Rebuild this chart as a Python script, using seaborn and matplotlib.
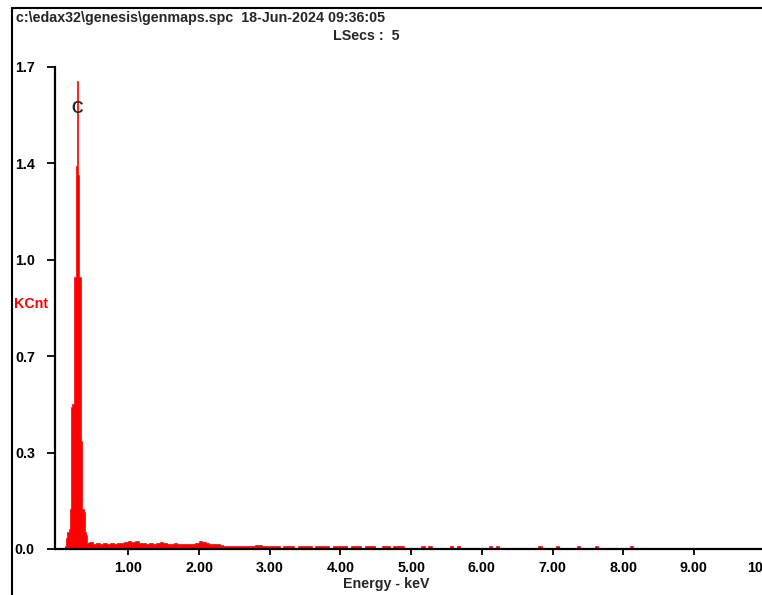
import numpy as np
import pandas as pd
import matplotlib
matplotlib.use("Agg")
import matplotlib.pyplot as plt
import seaborn as sns
from matplotlib.lines import Line2D

# C K peak, 10 eV channels (keV / KCnt)
peak_energy = [0.11, 0.12, 0.13, 0.14, 0.15, 0.16, 0.17, 0.18, 0.19, 0.20,
               0.21, 0.22, 0.23, 0.24, 0.25, 0.26, 0.27, 0.28, 0.29, 0.30,
               0.31, 0.32, 0.33, 0.34, 0.35, 0.36, 0.37, 0.38, 0.39, 0.40,
               0.41, 0.42, 0.43, 0.44]
peak_kcnt = [0.010, 0.030, 0.040, 0.060, 0.060, 0.060, 0.070, 0.140, 0.140, 0.500,
             0.510, 0.510, 0.960, 0.960, 0.960, 1.350, 1.350, 1.650, 1.320, 1.320,
             0.960, 0.960, 0.960, 0.380, 0.140, 0.140, 0.140, 0.130, 0.060, 0.060,
             0.050, 0.020, 0.015, 0.020]

# background, 50 eV channels starting at 0.445 keV
bg_kcnt = [0.024, 0.019, 0.021, 0.017, 0.020, 0.018, 0.020, 0.018, 0.021, 0.020,
           0.026, 0.029, 0.024, 0.027, 0.021, 0.022, 0.019, 0.020, 0.018, 0.022,
           0.024, 0.020, 0.019, 0.018, 0.020, 0.018, 0.019, 0.018, 0.017, 0.018,
           0.021, 0.027, 0.024, 0.021, 0.019, 0.017, 0.018, 0.013, 0.011, 0.011,
           0.011, 0.010, 0.011, 0.010, 0.011, 0.010, 0.011, 0.015, 0.014, 0.012,
           0.010, 0.011, 0.010, 0.011, 0.000, 0.011, 0.010, 0.011, 0.000, 0.011,
           0.010, 0.011, 0.010, 0.000, 0.011, 0.011, 0.010, 0.011, 0.000, 0.011,
           0.011, 0.010, 0.011, 0.000, 0.011, 0.010, 0.011, 0.000, 0.011, 0.010,
           0.011, 0.000, 0.000, 0.011, 0.011, 0.000, 0.011, 0.011, 0.011, 0.000,
           0.000]

# isolated counts above 5 keV
sparse_energy = [5.17, 5.27, 5.57, 5.66, 6.12, 6.23, 6.82, 7.06, 7.36, 7.60, 8.10]
sparse_kcnt = [0.011] * len(sparse_energy)

x_ticks = [1, 2, 3, 4, 5, 6, 7, 8, 9, 10]
x_labels = ["1.00", "2.00", "3.00", "4.00", "5.00", "6.00", "7.00", "8.00", "9.00", "10.00"]
y_ticks = [0.0, 0.34, 0.68, 1.02, 1.36, 1.70]
y_labels = ["0.0", "0.3", "0.7", "1.0", "1.4", "1.7"]

header = "c:\\edax32\\genesis\\genmaps.spc  18-Jun-2024 09:36:05"

# channel edges
pe = np.array(peak_energy)
peak_edges = np.append(pe - 0.005, pe[-1] + 0.005)
bg_edges = np.round(np.arange(0.445, 10.2, 0.05), 3)
edges = np.unique(np.round(np.concatenate([peak_edges, bg_edges]), 3))
bg_energy = bg_edges[:len(bg_kcnt)] + 0.025

df = pd.DataFrame({
    "energy": np.concatenate([pe, bg_energy, sparse_energy]),
    "kcnt": np.concatenate([peak_kcnt, bg_kcnt, sparse_kcnt]),
})

sns.set_style("ticks")
plt.rcParams["font.family"] = ["Liberation Sans", "DejaVu Sans"]
plt.rcParams["font.weight"] = "bold"
fs = 10.3

W, H = 762, 595
fig = plt.figure(figsize=(W / 100, H / 100), dpi=100)
fig.patch.set_facecolor("white")

# axes from x=55 to past the right edge, y=67..549 px
ax = fig.add_axes([55 / W, (H - 549) / H, (780 - 55) / W, (549 - 67) / H])
sns.histplot(data=df, x="energy", weights="kcnt", bins=edges.tolist(), element="step",
             fill=True, color="#ff0000", alpha=1, linewidth=0.5, edgecolor="#ff0000", ax=ax)

ax.set_xlim((55 - 57.6) / 70.7, (780 - 57.6) / 70.7)
ax.set_ylim(0, 1.7)
ax.set_xticks(x_ticks)
ax.set_xticklabels(x_labels, fontsize=fs, fontweight="bold")
ax.set_yticks(y_ticks)
ax.set_yticklabels(y_labels, fontsize=fs, fontweight="bold")
ax.set_xlabel("")
ax.set_ylabel("")
ax.tick_params(axis="y", direction="out", length=6, width=1.3, pad=8.5, colors="black")
ax.tick_params(axis="x", direction="out", length=4.5, width=1.3, pad=4, colors="black")
for s in ["top", "right"]:
    ax.spines[s].set_visible(False)
for s in ["left", "bottom"]:
    ax.spines[s].set_linewidth(1.6)
    ax.spines[s].set_color("black")
    ax.spines[s].set_zorder(5)
ax.patch.set_alpha(0)

# outer frame
fig.add_artist(Line2D([12 / W, 1.0], [1 - 8 / H, 1 - 8 / H], color="black", lw=1.5))
fig.add_artist(Line2D([12 / W, 12 / W], [0, 1 - 8 / H], color="black", lw=1.5))

fig.text(16 / W, 1 - 18 / H, header, fontsize=fs, fontweight="bold", va="center", ha="left")
fig.text(333 / W, 1 - 36 / H, "LSecs :  5", fontsize=fs, fontweight="bold", va="center", ha="left")
fig.text(14 / W, 1 - 304 / H, "KCnt", fontsize=fs, fontweight="bold", color="#ff0000",
         va="center", ha="left")
fig.text(386 / W, 1 - 584 / H, "Energy - keV", fontsize=fs, fontweight="bold",
         va="center", ha="center")
ax.text(0.28, 1.555, "C", fontsize=11.5, fontweight="bold", ha="center", va="center")

fig.savefig("out.png", dpi=100)
